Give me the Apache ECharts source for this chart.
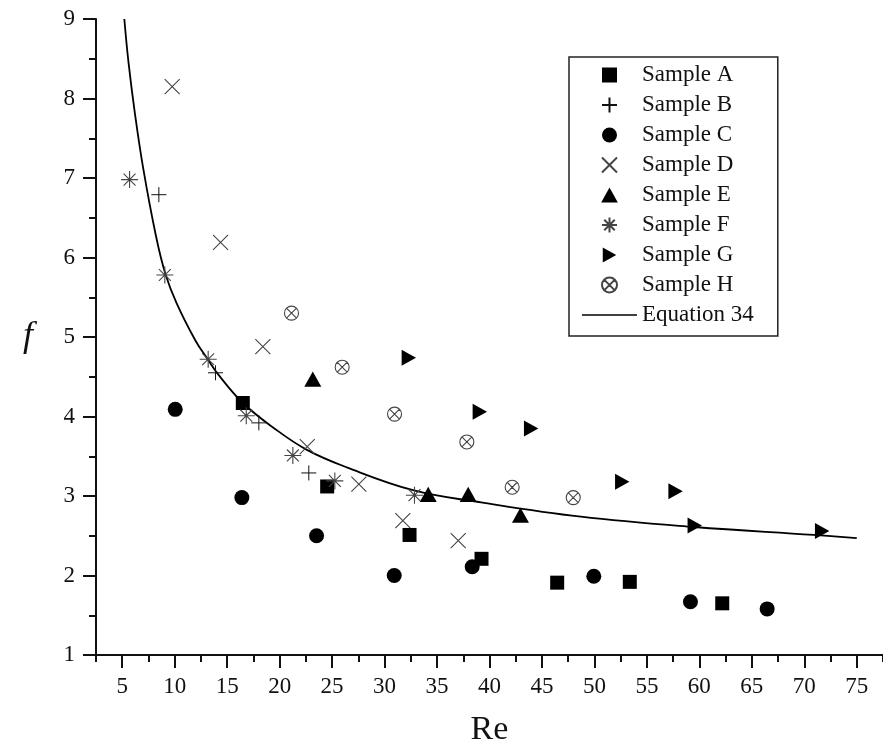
<!DOCTYPE html>
<html>
<head>
<meta charset="utf-8">
<script src="https://cdn.jsdelivr.net/npm/echarts@6/dist/echarts.min.js"></script>
<style>
html,body{margin:0;padding:0;background:#fff;}
#chart{width:883px;height:752px;}
</style>
</head>
<body>
<div id="chart"></div>
<script>
// ---- data ----
const seriesNames = ['Sample A','Sample B','Sample C','Sample D','Sample E','Sample F','Sample G','Sample H'];
const lineName = 'Equation 34';

const reA = [16.49, 24.53, 32.38, 39.24, 46.45, 53.37, 62.18];
const fA  = [4.17, 3.12, 2.51, 2.21, 1.91, 1.92, 1.65];
const reB = [8.49, 13.89, 18.02, 22.78];
const fB  = [6.79, 4.55, 3.92, 3.29];
const reC = [10.05, 16.40, 23.52, 30.92, 38.35, 49.94, 59.15, 66.46];
const fC  = [4.09, 2.98, 2.50, 2.00, 2.11, 1.99, 1.67, 1.58];
const reD = [9.76, 14.37, 18.40, 22.63, 27.55, 31.74, 37.02];
const fD  = [8.15, 6.19, 4.88, 3.62, 3.15, 2.69, 2.44];
const reE = [23.16, 34.16, 37.97, 42.95];
const fE  = [4.47, 3.02, 3.02, 2.76];
const reF = [5.70, 9.06, 13.19, 16.82, 21.26, 25.26, 32.85];
const fF  = [6.98, 5.78, 4.72, 4.01, 3.51, 3.19, 3.01];
const reG = [32.31, 39.08, 43.97, 52.65, 57.73, 59.56, 71.70];
const fG  = [4.74, 4.06, 3.85, 3.18, 3.06, 2.63, 2.56];
const reH = [21.13, 25.96, 30.95, 37.84, 42.16, 47.98];
const fH  = [5.30, 4.62, 4.03, 3.68, 3.11, 2.98];

const reEq = [5.2, 5.6, 6.2, 7.0, 8.2, 9.1, 10.2, 12.0, 13.1, 14.2, 16.5, 19.5, 22.6, 26.4, 32.8, 39.2, 48.7, 59.5, 70.9, 75.0];
const fEq  = [9.0, 8.45, 7.82, 7.12, 6.28, 5.80, 5.42, 4.95, 4.73, 4.52, 4.17, 3.85, 3.58, 3.36, 3.07, 2.92, 2.74, 2.61, 2.51, 2.47];

const xMajorTicks = [5,10,15,20,25,30,35,40,45,50,55,60,65,70,75];
const xMinorTicks = [2.5,7.5,12.5,17.5,22.5,27.5,32.5,37.5,42.5,47.5,52.5,57.5,62.5,67.5,72.5,77.5];

// ---- helpers ----
function zip(xs, ys){ return xs.map((x,i)=>[x, ys[i]]); }
const FONT = 'Liberation Serif';

const symbols = {
  A: {symbol:'path://M0,0H10V10H0Z', size:14, style:{color:'#000'}},
  B: {symbol:'path://M5,0V10M0,5H10', size:15, style:{color:'transparent', borderColor:'#111', borderWidth:1}},
  C: {symbol:'circle', size:15, style:{color:'#000'}},
  D: {symbol:'path://M0,0L10,10M10,0L0,10', size:15, style:{color:'transparent', borderColor:'#444', borderWidth:1.1}},
  E: {symbol:'path://M5,0L10,9L0,9Z', size:17, style:{color:'#000'}},
  F: {symbol:'path://M5,0V10M0,5H10M1.5,1.5L8.5,8.5M8.5,1.5L1.5,8.5', size:17, style:{color:'transparent', borderColor:'#444', borderWidth:1.1}},
  G: {symbol:'path://M0,0L9,5L0,10Z', size:16, style:{color:'#000'}},
  H: {symbol:'path://M10,5A5,5,0,1,1,0,5A5,5,0,1,1,10,5ZM1.6,1.6L8.4,8.4M8.4,1.6L1.6,8.4', size:14, style:{color:'transparent', borderColor:'#444', borderWidth:1.1}}
};
const legendKeys = ['A','B','C','D','E','F','G','H'];

function scatter(name, key, xs, ys){
  const s = symbols[key];
  return {
    name: name, type:'scatter', xAxisIndex:0, yAxisIndex:0,
    symbol: s.symbol, symbolSize: s.size, symbolKeepAspect:true,
    itemStyle: Object.assign({opacity:1}, s.style),
    data: zip(xs, ys), z: 3
  };
}

const chart = echarts.init(document.getElementById('chart'), null, {renderer:'canvas'});

const axisLabelStyle = {fontFamily: FONT, fontSize: 23, color:'#111'};

const legendData = seriesNames.map((n,i)=>({name:n, icon:symbols[legendKeys[i]].symbol}))
  .concat([{name:lineName, icon:'path://M0,0H55V1.6H0Z', itemStyle:{color:'#000', borderWidth:0}}]);

const option = {
  backgroundColor:'#fff',
  animation:false,
  textStyle:{fontFamily:FONT},
  grid:{left:96, right:0, top:19, bottom:97, containLabel:false},
  legend:{
    orient:'vertical', left:569, top:57,
    data: legendData,
    itemWidth:55, itemHeight:15, itemGap:6,
    padding:[6,24,9,13],
    borderColor:'#222', borderWidth:1.5,
    textStyle:{fontFamily:FONT, fontSize:23, color:'#111', lineHeight:24},
    selectedMode:false
  },
  xAxis:[
    {
      type:'value', min:2.5, max:77.5,
      name:'Re', nameLocation:'middle', nameGap:58,
      nameTextStyle:{fontFamily:FONT, fontSize:34, color:'#111'},
      axisLine:{show:true, onZero:false, lineStyle:{color:'#111', width:2}},
      axisTick:{show:true, length:13, customValues:xMajorTicks, lineStyle:{color:'#111', width:2}},
      axisLabel:{show:true, customValues:xMajorTicks, margin:20, ...axisLabelStyle},
      splitLine:{show:false}
    },
    {
      type:'value', min:2.5, max:77.5, position:'bottom',
      axisLine:{show:false},
      axisTick:{show:true, length:7, customValues:xMinorTicks, lineStyle:{color:'#111', width:2}},
      axisLabel:{show:false},
      splitLine:{show:false}
    }
  ],
  yAxis:[
    {
      type:'value', min:1, max:9, interval:1,
      name:'f', nameLocation:'middle', nameGap:63, nameRotate:0,
      nameTextStyle:{fontFamily:FONT, fontSize:36, fontStyle:'italic', color:'#111'},
      axisLine:{show:true, onZero:false, lineStyle:{color:'#111', width:2}},
      axisTick:{show:true, length:13, lineStyle:{color:'#111', width:2}},
      minorTick:{show:true, splitNumber:2, length:7, lineStyle:{color:'#111', width:2}},
      axisLabel:{show:true, margin:21, ...axisLabelStyle},
      splitLine:{show:false}, minorSplitLine:{show:false}
    }
  ],
  series:[
    scatter('Sample A','A', reA, fA),
    scatter('Sample B','B', reB, fB),
    scatter('Sample C','C', reC, fC),
    scatter('Sample D','D', reD, fD),
    scatter('Sample E','E', reE, fE),
    scatter('Sample F','F', reF, fF),
    scatter('Sample G','G', reG, fG),
    scatter('Sample H','H', reH, fH),
    {
      name: lineName, type:'line', xAxisIndex:0, yAxisIndex:0,
      data: zip(reEq, fEq), smooth:0.4,
      symbol:'none', showSymbol:false,
      lineStyle:{color:'#000', width:1.8},
      itemStyle:{color:'#000'},
      z:2
    }
  ]
};
chart.setOption(option);
</script>
</body>
</html>
